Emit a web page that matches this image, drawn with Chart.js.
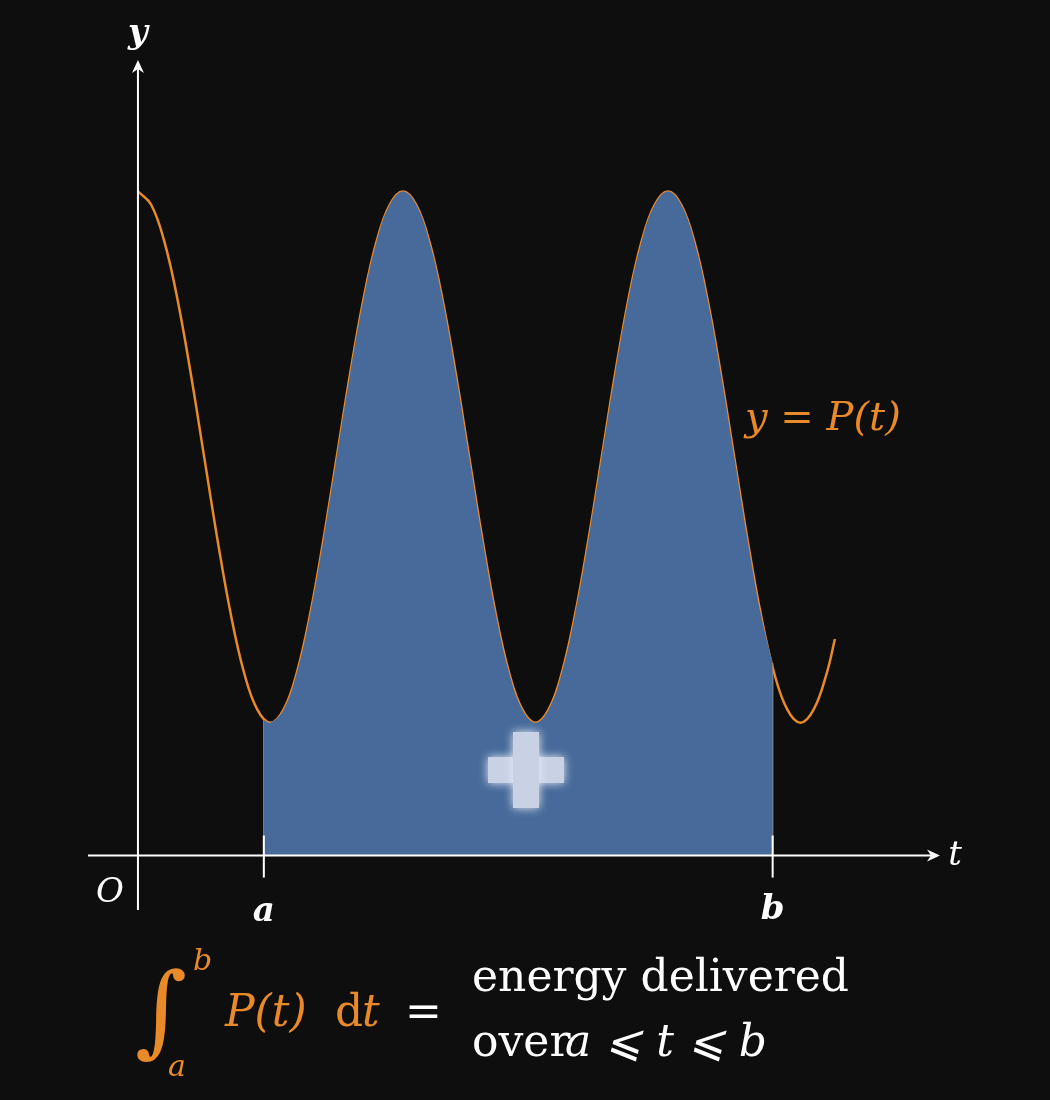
<!DOCTYPE html>
<html>
<head>
<meta charset="utf-8">
<script src="https://cdn.jsdelivr.net/npm/chart.js@4/dist/chart.umd.min.js"></script>
<style>
  body { margin: 0; background: #0e0e0e; }
  #wrap { width: 1050px; height: 1100px; position: relative; }
</style>
</head>
<body>
<div id="wrap"><canvas id="c"></canvas></div>
<script>
const tValues = [0,0.1,0.2,0.3,0.4,0.5,0.6,0.7,0.8,0.9,1,1.1,1.2,1.3,1.4,1.5,1.6,1.7,1.8,1.9,2,
  2.1,2.2,2.3,2.4,2.5,2.6,2.7,2.8,2.9,3,3.1,3.2,3.3,3.4,3.5,3.6,3.7,3.8,3.9,4,
  4.1,4.2,4.3,4.4,4.5,4.6,4.7,4.8,4.9,5,5.1,5.2,5.26];
const pValues = [5,4.9,4.62,4.18,3.62,3,2.38,1.82,1.38,1.1,1,1.1,1.38,1.82,2.38,3,3.62,4.18,4.62,4.9,5,
  4.9,4.62,4.18,3.62,3,2.38,1.82,1.38,1.1,1,1.1,1.38,1.82,2.38,3,3.62,4.18,4.62,4.9,5,
  4.9,4.62,4.18,3.62,3,2.38,1.82,1.38,1.1,1,1.1,1.38,1.63];
const limitA = 0.95, limitB = 4.79;
const pAtA = 1.02, pAtB = 1.45;

const curve = tValues.map((t, i) => ({ x: t, y: pValues[i] }));
const area = [{ x: limitA, y: pAtA }]
  .concat(curve.filter(p => p.x > limitA && p.x < limitB))
  .concat([{ x: limitB, y: pAtB }]);

const serif = '"DejaVu Serif", "Liberation Serif", serif';
const orange = '#e8892a';

const overlay = {
  id: 'overlay',
  beforeDatasetsDraw(chart) {
    const { ctx, scales: { x, y } } = chart;
    const x0 = x.getPixelForValue(0), y0 = y.getPixelForValue(0);
    ctx.save();
    ctx.strokeStyle = '#888';
    ctx.lineWidth = 1.5;
    [[limitA, pAtA], [limitB, pAtB]].forEach(([t, v]) => {
      ctx.beginPath();
      ctx.moveTo(x.getPixelForValue(t), y0);
      ctx.lineTo(x.getPixelForValue(t), y.getPixelForValue(v));
      ctx.stroke();
    });
    ctx.restore();
  },
  afterDatasetsDraw(chart) {
    const { ctx, scales: { x, y } } = chart;
    const x0 = x.getPixelForValue(0), y0 = y.getPixelForValue(0);
    const xl = x.getPixelForValue(x.min), xr = x.getPixelForValue(x.max);
    const yb = y.getPixelForValue(y.min), yt = y.getPixelForValue(y.max);
    ctx.save();
    ctx.strokeStyle = '#fff'; ctx.fillStyle = '#fff'; ctx.lineWidth = 2;
    ctx.beginPath(); ctx.moveTo(xl, y0); ctx.lineTo(xr - 6, y0); ctx.stroke();
    ctx.beginPath(); ctx.moveTo(x0, yb); ctx.lineTo(x0, yt + 6); ctx.stroke();
    ctx.beginPath(); ctx.moveTo(xr, y0); ctx.lineTo(xr - 13, y0 - 6); ctx.lineTo(xr - 9, y0); ctx.lineTo(xr - 13, y0 + 6); ctx.closePath(); ctx.fill();
    ctx.beginPath(); ctx.moveTo(x0, yt); ctx.lineTo(x0 - 6, yt + 13); ctx.lineTo(x0, yt + 9); ctx.lineTo(x0 + 6, yt + 13); ctx.closePath(); ctx.fill();
    // ticks at a and b
    [limitA, limitB].forEach(t => {
      const px = x.getPixelForValue(t);
      ctx.beginPath(); ctx.moveTo(px, y0 - 20); ctx.lineTo(px, y0 + 22); ctx.stroke();
    });
    ctx.textAlign = 'center'; ctx.textBaseline = 'middle';
    ctx.font = 'italic bold 34px ' + serif;
    ctx.fillText('a', x.getPixelForValue(limitA), 912);
    ctx.fillText('b', x.getPixelForValue(limitB), 910);
    ctx.fillText('y', x0, 34);
    ctx.font = 'italic 34px ' + serif;
    ctx.fillText('O', 110, 893);
    ctx.fillText('t', 955, 856);
    // curve label
    ctx.fillStyle = orange;
    ctx.font = 'italic 40px ' + serif;
    ctx.textAlign = 'left';
    ctx.fillText('y = P(t)', 745, 420);
    // plus sign
    ctx.fillStyle = '#c9d2e4';
    ctx.shadowColor = '#e6ecf8'; ctx.shadowBlur = 10;
    ctx.fillRect(488, 757, 76, 26);
    ctx.fillRect(513, 732, 26, 76);
    ctx.shadowBlur = 0;
    // formula
    ctx.fillStyle = orange;
    ctx.font = 'italic 100px ' + serif;
    ctx.fillText('\u222B', 135, 1018);
    ctx.font = 'italic 30px ' + serif;
    ctx.fillText('b', 193, 962);
    ctx.fillText('a', 168, 1068);
    ctx.font = 'italic 44px ' + serif;
    ctx.fillText('P(t)', 225, 1015);
    ctx.font = '44px ' + serif;
    ctx.fillText('d', 335, 1015);
    ctx.font = 'italic 44px ' + serif;
    ctx.fillText('t', 362, 1015);
    ctx.fillStyle = '#fff';
    ctx.font = '44px ' + serif;
    ctx.fillText('=', 405, 1015);
    ctx.fillText('energy delivered', 472, 980);
    ctx.fillText('over ', 472, 1045);
    ctx.font = 'italic 44px ' + serif;
    ctx.fillText('a \u2A7D t \u2A7D b', 565, 1045);
    ctx.restore();
  }
};

new Chart(document.getElementById('c'), {
  type: 'line',
  data: {
    datasets: [
      { data: area, borderWidth: 0, pointRadius: 0, fill: 'origin',
        backgroundColor: '#476a9a', tension: 0.4 },
      { data: curve, borderColor: orange, borderWidth: 2.5, pointRadius: 0,
        fill: false, tension: 0.4 }
    ]
  },
  options: {
    responsive: true, maintainAspectRatio: false, animation: false,
    layout: { padding: { left: 88, right: 110, top: 60, bottom: 190 } },
    plugins: { legend: { display: false }, tooltip: { enabled: false } },
    scales: {
      x: { type: 'linear', min: -0.377, max: 6.053, display: false },
      y: { min: -0.41, max: 5.99, display: false }
    }
  },
  plugins: [overlay]
});
</script>
</body>
</html>
